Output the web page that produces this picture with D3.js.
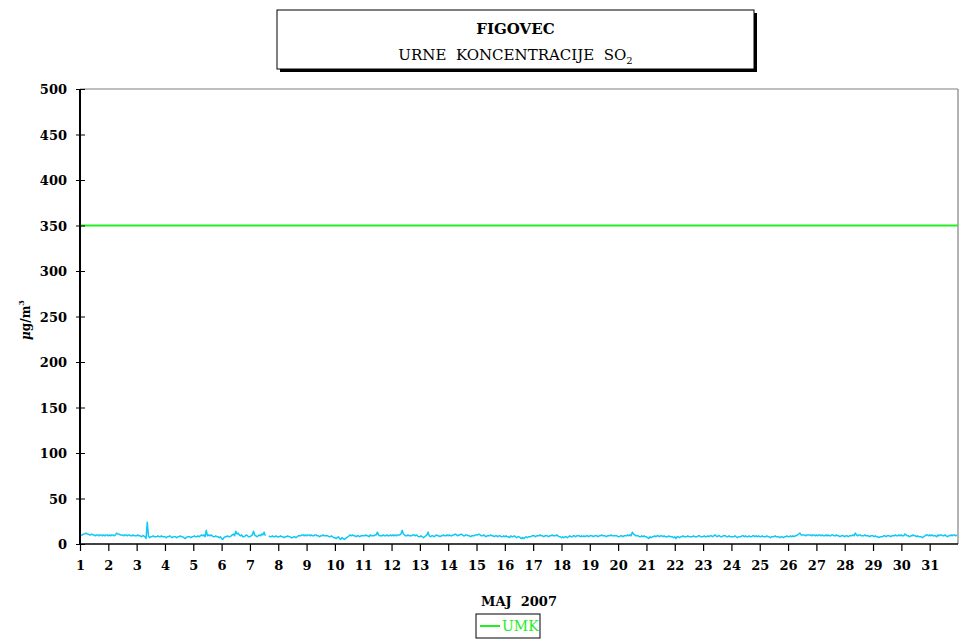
<!DOCTYPE html>
<html>
<head>
<meta charset="utf-8">
<script src="https://cdn.jsdelivr.net/npm/d3@7"></script>
<style>
  html, body { margin: 0; padding: 0; background: #fff; }
  svg { display: block; }
</style>
</head>
<body>
<svg id="chart" width="959" height="639"></svg>
<script>
// ---- data ----
const days = d3.range(1, 32); // 1..31
const yTicks = [0, 50, 100, 150, 200, 250, 300, 350, 400, 450, 500];
const umkLimit = 350;
const titleMain = "FIGOVEC";
const xTitle = "MAJ  2007";
const legendLabel = "UMK";

// hourly SO2 concentrations (µg/m3), 24 values per day, May 2007
const so2Day01 = [9,10,10,11,11,12,11,11,10,10,11,10,10,9,10,10,9,10,10,9,10,9,10,10];
const so2Day02 = [9,10,9,10,10,9,10,12,11,11,10,10,10,9,10,10,9,10,10,9,9,10,9,9];
const so2Day03 = [9,10,9,9,8,9,9,8,6,24,9,7,8,8,9,8,8,8,9,8,8,9,8,8];
const so2Day04 = [8,7,8,8,9,8,7,8,8,8,7,8,8,9,8,8,7,6,7,8,8,8,7,8];
const so2Day05 = [8,9,8,8,9,8,9,10,9,10,8,15,9,10,9,10,9,8,8,9,8,8,7,8];
const so2Day06 = [6,5,7,8,8,9,8,8,9,10,11,9,14,11,12,10,9,10,8,8,9,10,9,8];
const so2Day07 = [8,9,10,14,10,9,8,9,10,9,11,10,13,9,null,null,9,8,8,9,8,8,9,8];
const so2Day08 = [8,8,9,8,8,7,8,8,9,8,8,7,7,8,8,7,8,9,9,9,10,10,9,10];
const so2Day09 = [9,10,10,9,10,9,9,10,10,9,9,8,9,9,10,9,9,9,9,8,8,9,8,7];
const so2Day10 = [7,6,7,8,6,5,7,6,5,6,7,8,9,10,9,10,9,9,8,9,9,8,9,9];
const so2Day11 = [9,9,10,9,9,8,10,9,9,9,10,10,13,10,9,9,9,10,9,9,10,9,9,10];
const so2Day12 = [9,10,9,10,9,10,10,10,11,15,11,10,9,9,10,9,9,9,10,10,9,10,9,8];
const so2Day13 = [8,9,8,7,8,9,10,13,9,8,9,9,8,9,10,9,9,8,9,9,10,9,9,10];
const so2Day14 = [9,10,9,9,10,10,11,10,9,10,10,11,10,9,9,10,10,9,9,8,9,9,9,10];
const so2Day15 = [10,10,11,10,9,9,10,9,8,9,9,9,10,9,9,8,9,9,8,9,9,8,8,9];
const so2Day16 = [8,9,8,8,7,9,8,8,9,8,7,8,8,7,6,7,6,7,8,7,8,8,8,9];
const so2Day17 = [9,9,8,9,9,9,10,9,9,8,9,9,9,8,9,9,10,9,9,9,10,9,8,8];
const so2Day18 = [7,8,7,8,8,7,8,9,8,8,9,9,8,9,9,9,8,9,8,9,8,9,9,8];
const so2Day19 = [9,9,9,8,9,9,9,8,9,9,10,9,9,9,8,9,9,9,10,9,9,9,9,9];
const so2Day20 = [8,8,9,9,8,9,9,9,10,9,10,9,13,11,10,9,9,9,8,8,9,8,9,8];
const so2Day21 = [8,7,6,8,7,8,8,9,8,9,9,8,9,9,8,9,8,8,8,9,8,8,8,7];
const so2Day22 = [8,6,8,8,7,8,8,9,8,8,8,9,8,8,8,8,9,8,8,8,9,9,8,8];
const so2Day23 = [8,9,8,8,9,8,9,9,8,9,10,9,8,9,9,8,8,9,9,9,8,8,9,8];
const so2Day24 = [8,8,8,9,8,7,8,8,8,9,9,8,9,8,8,9,8,8,9,9,8,9,8,9];
const so2Day25 = [8,8,9,8,8,8,9,8,8,7,8,8,8,9,8,8,8,7,8,8,7,8,8,9];
const so2Day26 = [8,8,9,8,9,8,9,9,10,11,12,10,10,10,10,9,10,10,10,10,9,10,10,9];
const so2Day27 = [10,9,10,10,9,10,9,9,10,9,10,9,9,10,10,9,9,10,9,9,8,9,9,9];
const so2Day28 = [8,9,9,8,9,9,9,10,9,12,10,9,10,10,9,9,9,10,9,9,9,8,9,9];
const so2Day29 = [9,8,9,8,8,7,8,8,8,9,9,8,9,9,9,8,9,9,9,10,9,9,10,9];
const so2Day30 = [10,9,9,11,10,9,9,8,9,9,10,9,9,8,9,8,8,8,7,8,9,10,10,9];
const so2Day31 = [10,9,10,9,9,9,8,10,9,10,10,9,9,10,9,8,9,9,10,9,10,10,9,10];

const so2Days = [so2Day01,so2Day02,so2Day03,so2Day04,so2Day05,so2Day06,so2Day07,so2Day08,
  so2Day09,so2Day10,so2Day11,so2Day12,so2Day13,so2Day14,so2Day15,so2Day16,so2Day17,
  so2Day18,so2Day19,so2Day20,so2Day21,so2Day22,so2Day23,so2Day24,so2Day25,so2Day26,
  so2Day27,so2Day28,so2Day29,so2Day30,so2Day31];

// ---- layout ----
const FONT = "'DejaVu Serif', serif";
const svg = d3.select("#chart");
const M = { left: 80, right: 958, top: 89, bottom: 544 };

const x = d3.scaleLinear().domain([1, 32]).range([M.left, M.right]);
const y = d3.scaleLinear().domain([0, 500]).range([M.bottom, M.top]);

const series = [];
so2Days.forEach((arr, di) => {
  arr.forEach((v, h) => series.push({ t: days[di] + h / 24, v: v }));
});

// plot frame (top & right in grey)
svg.append("line").attr("x1", M.left).attr("x2", M.right).attr("y1", M.top).attr("y2", M.top)
  .attr("stroke", "#808080").attr("stroke-width", 1.2);
svg.append("line").attr("x1", M.right).attr("x2", M.right).attr("y1", M.top).attr("y2", M.bottom)
  .attr("stroke", "#808080").attr("stroke-width", 1.2);

// UMK line
svg.append("line")
  .attr("x1", x(1)).attr("x2", x(32)).attr("y1", y(umkLimit)).attr("y2", y(umkLimit))
  .attr("stroke", "#22ee22").attr("stroke-width", 2);

// data line
const line = d3.line().defined(d => d.v !== null).x(d => x(d.t)).y(d => y(d.v));
svg.append("path").datum(series).attr("d", line)
  .attr("fill", "none").attr("stroke", "#10c8f4").attr("stroke-width", 1.5)
  .attr("stroke-linejoin", "round");

// y axis
const yAxis = d3.axisLeft(y).tickValues(yTicks).tickSize(0).tickPadding(0);
const gy = svg.append("g").attr("transform", `translate(${M.left},0)`).call(yAxis);
gy.select(".domain").remove();
gy.selectAll(".tick line").remove();
gy.selectAll(".tick").append("line").attr("x1", -4).attr("x2", 5).attr("stroke", "#000").attr("stroke-width", 1);
gy.selectAll(".tick text").attr("x", -13).attr("dy", "0.35em")
  .attr("fill", "#000")
  .style("font-family", FONT).style("font-size", "13px").style("font-weight", "bold");
svg.append("line").attr("x1", M.left).attr("x2", M.left).attr("y1", M.top).attr("y2", M.bottom)
  .attr("stroke", "#000").attr("stroke-width", 2);

// x axis
const xAxis = d3.axisBottom(x).tickValues(days).tickSize(0).tickFormat(d3.format("d"));
const gx = svg.append("g").attr("transform", `translate(0,${M.bottom})`).call(xAxis);
gx.select(".domain").remove();
gx.selectAll(".tick line").remove();
gx.selectAll(".tick").append("line").attr("y1", 0).attr("y2", 7).attr("stroke", "#000").attr("stroke-width", 1.2);
gx.selectAll(".tick text").attr("y", 26).attr("dy", 0).attr("fill", "#000")
  .style("font-family", FONT).style("font-size", "13px").style("font-weight", "bold");
svg.append("line").attr("x1", M.left).attr("x2", M.right).attr("y1", M.bottom).attr("y2", M.bottom)
  .attr("stroke", "#000").attr("stroke-width", 1.5);

// y title
const yt = svg.append("text")
  .attr("transform", `translate(30,320) rotate(-90)`)
  .attr("text-anchor", "middle")
  .style("font-family", FONT).style("font-size", "12px").style("font-weight", "bold");
yt.append("tspan").text("μ").style("font-style", "italic");
yt.append("tspan").text("g/m");
yt.append("tspan").text("3").style("font-size", "8px").attr("dy", -6);

// x title
svg.append("text").attr("x", (M.left + M.right) / 2).attr("y", 606)
  .attr("text-anchor", "middle")
  .style("font-family", FONT).style("font-size", "13px").style("font-weight", "bold")
  .style("white-space", "pre").text(xTitle);

// title box
const tb = { x: 277, y: 10, w: 477, h: 59 };
svg.append("rect").attr("x", tb.x + 3).attr("y", tb.y + 3).attr("width", tb.w).attr("height", tb.h).attr("fill", "#000");
svg.append("rect").attr("x", tb.x).attr("y", tb.y).attr("width", tb.w).attr("height", tb.h)
  .attr("fill", "#fff").attr("stroke", "#000").attr("stroke-width", 1);
svg.append("text").attr("x", tb.x + tb.w / 2).attr("y", 34).attr("text-anchor", "middle")
  .style("font-family", FONT).style("font-size", "15px").style("font-weight", "bold").text(titleMain);
const st = svg.append("text").attr("x", tb.x + tb.w / 2).attr("y", 60).attr("text-anchor", "middle")
  .style("font-family", FONT).style("font-size", "15px").style("white-space", "pre");
st.append("tspan").text("URNE  KONCENTRACIJE  SO");
st.append("tspan").text("2").style("font-size", "10px").attr("dy", 4);

// legend
const lg = { x: 476, y: 614, w: 64, h: 24 };
svg.append("rect").attr("x", lg.x).attr("y", lg.y).attr("width", lg.w).attr("height", lg.h)
  .attr("fill", "#fff").attr("stroke", "#000").attr("stroke-width", 1);
svg.append("line").attr("x1", lg.x + 4).attr("x2", lg.x + 24).attr("y1", lg.y + lg.h / 2).attr("y2", lg.y + lg.h / 2)
  .attr("stroke", "#22ee22").attr("stroke-width", 2);
svg.append("text").attr("x", lg.x + 26).attr("y", lg.y + lg.h / 2 + 5)
  .style("font-family", FONT).style("font-size", "14px").attr("fill", "#22ee22").text(legendLabel);
</script>
</body>
</html>
